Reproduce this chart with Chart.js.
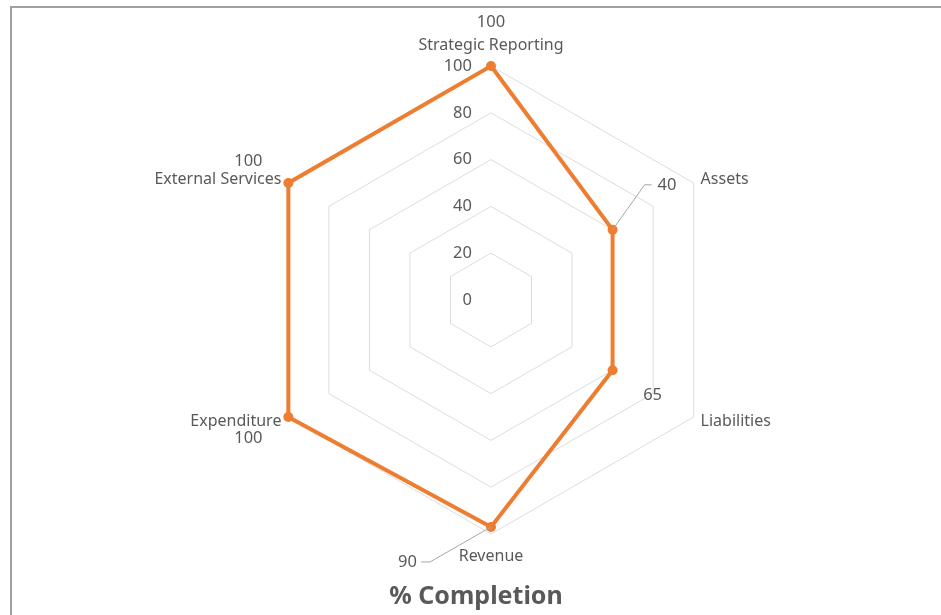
<!DOCTYPE html>
<html>
<head>
<meta charset="utf-8">
<title>% Completion</title>
<script src="https://cdn.jsdelivr.net/npm/chart.js@4.4.1/dist/chart.umd.min.js"></script>
<style>
  html, body { margin: 0; padding: 0; background: #fff; }
  canvas { display: block; }
</style>
</head>
<body>
<canvas id="radarChart" width="941" height="615"></canvas>
<script>
// 数据
const categories = ["Strategic Reporting", "Assets", "Liabilities", "Revenue", "Expenditure", "External Services"];
const completion = [100, 60, 60, 97, 100, 100];
const dataLabels = ["100", "40", "65", "90", "100", "100"];
const tickValues = [0, 20, 40, 60, 80, 100];
const chartTitle = "% Completion";

const textColor = "#595959";
const fontFamily = "'Noto Sans', 'Open Sans', sans-serif";

// 自定义绘制：边框、刻度、分类标签、数据标签、标题
const decorPlugin = {
  id: "decor",
  afterDraw(chart) {
    const ctx = chart.ctx;
    const scale = chart.scales.r;
    const meta = chart.getDatasetMeta(0);
    ctx.save();

    // 外框线（上、左）
    ctx.strokeStyle = "#a0a0a0";
    ctx.lineWidth = 2;
    ctx.beginPath();
    ctx.moveTo(11, 615);
    ctx.lineTo(11, 7);
    ctx.lineTo(941, 7);
    ctx.stroke();

    // 刻度标签
    ctx.fillStyle = textColor;
    ctx.font = "16.5px " + fontFamily;
    ctx.textAlign = "right";
    ctx.textBaseline = "middle";
    tickValues.forEach((v) => {
      const d = scale.getDistanceFromCenterForValue(v);
      ctx.fillText(String(v), scale.xCenter - 19, scale.yCenter - d);
    });

    // 分类标签
    ctx.font = "16px " + fontFamily;
    const R = scale.drawingArea;
    categories.forEach((name, i) => {
      const p = scale.getPointPosition(i, R + 8);
      let align = "center", base = "middle", y = p.y;
      if (i === 0) { base = "bottom"; y = p.y - 5; }
      else if (i === 3) { base = "top"; y = p.y + 6; }
      else if (i === 1 || i === 2) { align = "left"; }
      else { align = "right"; }
      ctx.textAlign = align;
      ctx.textBaseline = base;
      ctx.fillText(name, p.x, y);
    });

    // 数据标签与引导线
    ctx.strokeStyle = "#a6a6a6";
    ctx.lineWidth = 1;
    ctx.font = "16.5px " + fontFamily;
    meta.data.forEach((pt, i) => {
      const txt = dataLabels[i];
      ctx.textAlign = "center";
      ctx.textBaseline = "middle";
      if (i === 0) {
        ctx.fillText(txt, pt.x, pt.y - 44);
      } else if (i === 1) {
        ctx.beginPath();
        ctx.moveTo(pt.x, pt.y);
        ctx.lineTo(pt.x + 32, pt.y - 45);
        ctx.lineTo(pt.x + 39, pt.y - 45);
        ctx.stroke();
        ctx.textAlign = "left";
        ctx.fillText(txt, pt.x + 45, pt.y - 45);
      } else if (i === 2) {
        ctx.fillText(txt, pt.x + 40, pt.y + 25);
      } else if (i === 3) {
        ctx.beginPath();
        ctx.moveTo(pt.x, pt.y);
        ctx.lineTo(pt.x - 61, pt.y + 35);
        ctx.lineTo(pt.x - 70, pt.y + 35);
        ctx.stroke();
        ctx.textAlign = "right";
        ctx.fillText(txt, pt.x - 74, pt.y + 35);
      } else if (i === 4) {
        ctx.fillText(txt, pt.x - 40, pt.y + 21);
      } else {
        ctx.fillText(txt, pt.x - 40, pt.y - 22);
      }
    });

    // 标题
    ctx.font = "bold 25px " + fontFamily;
    ctx.textAlign = "center";
    ctx.textBaseline = "middle";
    ctx.fillText(chartTitle, 476, 597);

    ctx.restore();
  },
};

document.addEventListener("DOMContentLoaded", function () {
  const ctx = document.getElementById("radarChart").getContext("2d");
  new Chart(ctx, {
    type: "radar",
    data: {
      labels: categories,
      datasets: [
        {
          label: chartTitle,
          data: completion,
          borderColor: "#ED7D31",
          backgroundColor: "#ED7D31",
          borderWidth: 4,
          fill: false,
          pointRadius: 5,
          pointBackgroundColor: "#ED7D31",
          pointBorderColor: "#ED7D31",
          pointBorderWidth: 0,
        },
      ],
    },
    options: {
      responsive: false,
      animation: false,
      layout: {
        padding: { top: 66, bottom: 81, left: 42, right: 0 },
      },
      scales: {
        r: {
          min: 0,
          max: 100,
          ticks: { stepSize: 20, display: false },
          grid: { color: "#dcdcdc", lineWidth: 1 },
          angleLines: { display: false },
          pointLabels: { display: false },
        },
      },
      plugins: {
        legend: { display: false },
        tooltip: { enabled: false },
        title: { display: false },
      },
    },
    plugins: [decorPlugin],
  });
});
</script>
</body>
</html>
